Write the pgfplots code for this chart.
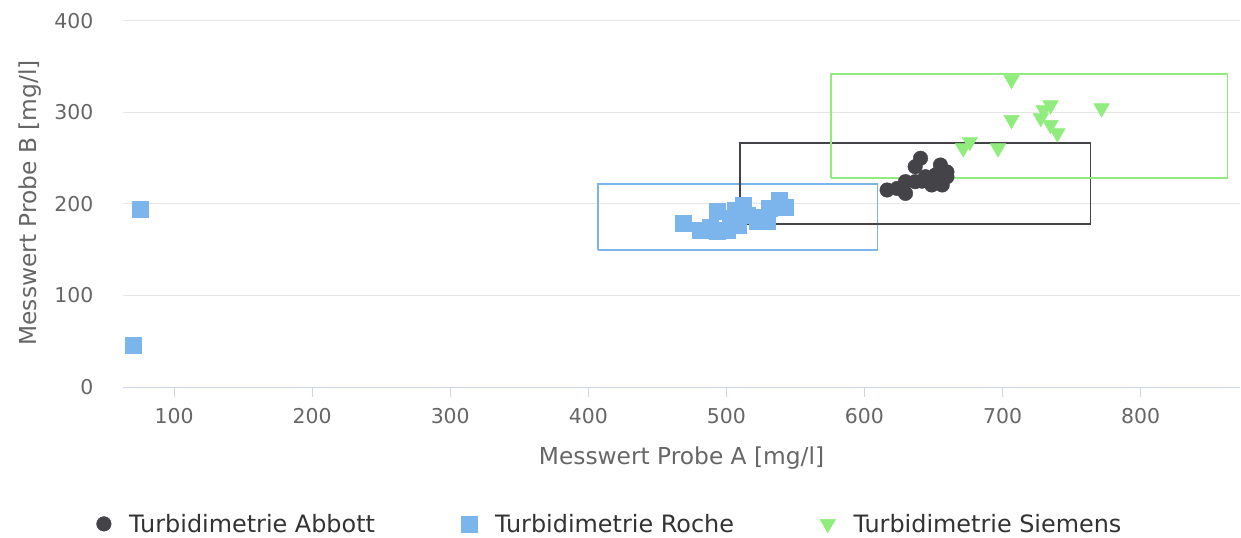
\documentclass[border=0pt]{standalone}
\usepackage{pgfplots}
\pgfplotsset{compat=1.18}
\usepackage{fontspec}
\setmainfont{DejaVu Sans}
\definecolor{abbott}{HTML}{434348}
\definecolor{roche}{HTML}{7CB5EC}
\definecolor{siemens}{HTML}{90ED7D}
\definecolor{gridc}{HTML}{E6E6E6}
\definecolor{axc}{HTML}{CCD6EB}
\definecolor{labc}{HTML}{666666}
\definecolor{legc}{HTML}{333333}
\begin{document}
\begin{tikzpicture}
\useasboundingbox (0,0) rectangle (1241bp,538bp);
\begin{axis}[
  at={(123bp,151bp)}, anchor=south west,
  scale only axis, width=1117bp, height=366bp,
  xmin=63, xmax=872, ymin=0, ymax=400,
  xtick={100,200,...,800}, ytick={0,100,...,400},
  axis lines*=left,
  x axis line style={draw=axc, line width=1bp},
  y axis line style={draw=none},
  ytick style={draw=none},
  xtick style={draw=axc, line width=1bp},
  tick align=outside, major tick length=10bp,
  ymajorgrids, grid style={gridc, line width=1bp},
  /pgf/number format/assume math mode=true,
  tick label style={font=\fontsize{20.5}{24}\selectfont, color=labc},
  yticklabel style={xshift=-16bp},
  xticklabel style={yshift=-8bp},
  xlabel={Messwert Probe A [mg/l]},
  ylabel={Messwert Probe B [mg/l]},
  xlabel style={at={(axis description cs:0.5,-0.194)}, anchor=center, font=\fontsize{23.4}{27}\selectfont, color=labc},
  ylabel style={at={(axis description cs:-0.0833,0.503)}, anchor=center, font=\fontsize{23.4}{27}\selectfont, color=labc},
  legend columns=3,
  legend cell align=left,
  legend style={draw=none, fill=none, at={(0.436,-0.374)}, anchor=center,
    font=\fontsize{24}{28}\selectfont, text=legc,
    /tikz/every even column/.append style={column sep=84bp},
    /tikz/every odd column/.append style={column sep=16bp}},
]
% boxes
\addplot[forget plot, draw=roche, line width=1.5bp, mark=none] coordinates {(406.9,149.7) (609.6,149.7) (609.6,221.9) (406.9,221.9) (406.9,149.7)};
\addplot[forget plot, draw=abbott, line width=1.5bp, mark=none] coordinates {(509.7,178.1) (763.8,178.1) (763.8,266.7) (509.7,266.7) (509.7,178.1)};
\addplot[forget plot, draw=siemens, line width=1.5bp, mark=none] coordinates {(575.6,228.4) (863.0,228.4) (863.0,342.0) (575.6,342.0) (575.6,228.4)};
% points
\addplot[only marks, mark=*, mark size=7.3bp, mark options={draw=abbott, fill=abbott}] table {
x y
616.4 215.3
623.7 217
629.7 211.6
629.7 224.4
636.7 224.4
641.7 225
644.2 229.8
648.7 220.8
651.4 231.7
656.3 220.8
659.7 229.8
659.7 235
636.7 240.8
655.0 242.6
640.6 250.0
};
\addlegendentry{Turbidimetrie Abbott}
\addplot[only marks, mark=square*, mark size=8bp, mark options={draw=roche, fill=roche}] table {
x y
75.3 194.5
70.3 45.9
469.0 179.0
481.0 171.6
488.4 175.0
493.2 191.6
493.2 170.0
500.7 171.6
502.7 184.7
506.5 193.4
508.7 177.0
512.3 199.0
514.7 188.0
522.0 180.7
526.7 186.0
529.4 180.7
530.7 195.3
538.0 204.4
542.7 197.0
};
\addlegendentry{Turbidimetrie Roche}
\addplot[only marks, mark=triangle*, mark size=9bp, mark options={rotate=180, draw=siemens, fill=siemens}] table {
x y
706.5 335.7
771.7 304.7
706.5 292.0
734.7 308.0
729.7 303.0
727.7 294.0
734.7 286.5
739.7 277.4
676.3 268.0
671.5 261.0
696.7 261.0
};
\addlegendentry{Turbidimetrie Siemens}
\end{axis}
\end{tikzpicture}
\end{document}
